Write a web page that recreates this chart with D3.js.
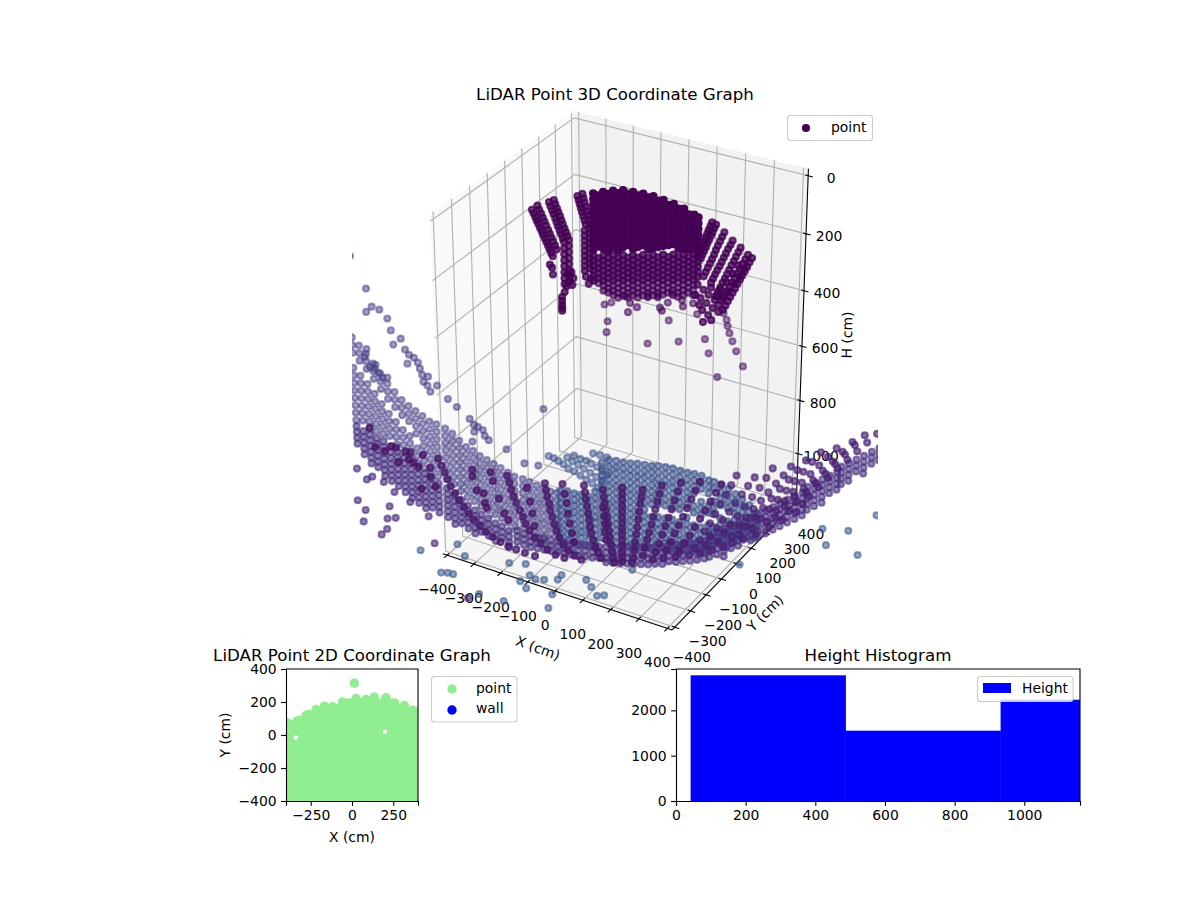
<!DOCTYPE html>
<html>
<head>
<meta charset="utf-8">
<script src="https://cdn.jsdelivr.net/npm/d3@7"></script>
<style>
  body { margin: 0; background: #fff; }
  svg { display: block; }
  text { font-family: "DejaVu Sans", sans-serif; fill: #000; }
</style>
</head>
<body>
<svg id="chart" width="1200" height="900"></svg>
<script>
// ---------- limits and ticks ----------
var xLim = [-400, 400];
var yLim = [-400, 400];
var hLim = [0, 1160];
var xTicks = [-400, -300, -200, -100, 0, 100, 200, 300, 400];
var yTicks = [-400, -300, -200, -100, 0, 100, 200, 300, 400];
var hTicks = [0, 200, 400, 600, 800, 1000];

// ---------- 3D cloud, far wall (all at y = 200) ----------
var wallY = 200;
var wallColX = [-220,-202,-184,-166,-148,-130,-112,-94,-76,-58,-40,-22,-4,14,32,50,68,86,104,122,140,155];
var wallUpperH = [
  [125,145,165,185,205,225,245,265,285,305,325],
  [128,148,168,188,208,228,248,268,288,308],
  [111,131,151,171,191,211,231,251,271,291,311],
  [114,134,154,174,194,214,234,254,274,294,314],
  [98,118,138,158,178,198,218,238,258,278,298],
  [102,122,142,162,182,202,222,242,262,282,302],
  [87,107,127,147,167,187,207,227,247,267,287],
  [95,115,135,155,175,195,215,235,255,275],
  [84,104,124,144,164,184,204,224,244,264,284],
  [92,112,132,152,172,192,212,232,252,272],
  [81,101,121,141,161,181,201,221,241,261],
  [90,110,130,150,170,190,210,230,250,270],
  [81,101,121,141,161,181,201,221,241,261],
  [93,113,133,153,173,193,213,233,253],
  [85,105,125,145,165,185,205,225,245],
  [97,117,137,157,177,197,217,237],
  [89,109,129,149,169,189,209,229],
  [101,121,141,161,181,201,221,241],
  [97,117,137,157,177,197,217,237],
  [112,132,152,172,192,212,232],
  [108,128,148,168,188,208,228],
  [114,134,154,174,194,214]
];
var wallMidH = [
  [345,363,381,399,417,435],
  [349,367,385,403,421],
  [335,353,371,389,407,425],
  [339,357,375,393,411],
  [325,343,361,379,397,415],
  [329,347,365,383,401],
  [315,333,351,369,387,405],
  [319,337,355,373,391],
  [305,323,341,359,377,395],
  [309,327,345,363,381],
  [295,313,331,349,367,385],
  [299,317,335,353,371],
  [285,303,321,339,357,375],
  [289,307,325,343,361],
  [275,293,311,329,347,365],
  [279,297,315,333,351],
  [265,283,301,319,337,355],
  [269,287,305,323,341],
  [255,273,291,309,327,345],
  [259,277,295,313,331],
  [245,263,281,299,317,335],
  [249,267,285,303,321]
];
var wallLowerH = [
  [],
  [439],
  [443,461],
  [429,447,463],
  [433,451,467],
  [419,437,455,472],
  [423,441,459],
  [409,427,445,461],
  [413,431,449],
  [399,417,435,451],
  [403,421,439],
  [389,407,425,441],
  [393,411,429],
  [379,397,415,431],
  [383,401,417],
  [369,387,405],
  [373,391,409],
  [359,377,395,410],
  [363,381,399],
  [349,367,385],
  [353,371,389],
  []
];
var wallDropX = [-104,-86,-94,-61,-22,14,22,29,50,65,101,104,140];
var wallDropH = [459,479,514,487,435,425,466,475,440,403,418,439,418];

var fingerX = [
  [-446,-440,-434,-429,-423,-417,-411,-406,-400,-394,-388,-383,-377,-371,-374,-371,-382],
  [-425,-419,-412,-406,-400,-394,-387,-381,-375,-369,-362,-356],
  [-382,-377,-371,-366,-360,-355,-350,-344,-339,-333,-328,-328,-328,-328,-328,-328,-328,-328],
  [-364,-359,-353,-348,-342,-337,-332,-326,-321,-315,-310,-310,-310,-310,-310,-310,-310,-310],
  [-338,-338,-338,-338,-338,-317,-302,-295,-310,-320,-299,-328],
  [-277,-273,-269,-265,-261,-256,-252,-248,-252,-252,-252,-252,-252,-252,-252,-252,-252,-248,-238,-230],
  [-259,-255,-251,-247,-243,-238,-234,-230,-234,-234,-234,-234,-234,-234,-234,-234,-234],
  [202,197,191,186,181,176,171,165,160,155],
  [216,210,204,199,193,187,182,176,170,165],
  [245,238,231,224,217,211,204,197,190,183,176],
  [274,267,259,252,245,238,231,223,216,209,202],
  [302,295,287,280,272,265,257,250,242,235,227,220],
  [342,334,326,318,310,302,294,286,278,270,262,254,245],
  [328,319,310,301,292,283,275,266,257,248,239,230],
  [155,176,194,216,166,187,209,230,173,194,176,205,162,148,223,245,263,284,302,317,202,234,256,277,295]
];
var fingerH = [
  [240,251,263,274,285,297,308,319,330,342,353,364,376,387,429,453,420],
  [220,233,245,258,270,283,296,308,321,333,346,359],
  [197,210,223,235,248,261,274,287,299,312,325,347,368,390,411,433,455,476],
  [185,198,211,223,236,249,262,275,287,300,313,334,356,378,399,421,442,464],
  [526,540,555,566,576,437,426,446,460,481,472,505],
  [149,162,175,188,201,214,228,241,264,282,300,318,336,354,372,390,408,428,451,430],
  [137,151,165,179,193,207,221,236,251,269,287,305,323,341,359,377,395],
  [119,133,147,162,176,190,204,219,233,247],
  [123,137,152,166,181,195,210,224,239,253],
  [142,159,176,193,210,228,245,262,279,296,313],
  [163,180,196,213,229,246,262,279,295,312,328],
  [180,197,215,232,249,266,284,301,318,336,353,370],
  [205,222,240,257,274,291,308,326,343,360,377,395,412],
  [198,216,234,253,271,289,308,326,344,362,381,399],
  [348,360,373,385,392,404,416,424,433,445,475,460,418,386,369,369,342,311,281,248,346,344,312,277,243]
];
var wallStrayX = [-180,-155,-169,-173,-22,54,90,184,198,230,248,259,263,270,281,295,320,155];
var wallStrayH = [510,496,568,609,608,503,569,534,581,658,423,444,465,488,514,546,593,452];

// ---------- 3D cloud, floor bowl (all at y = 0) ----------
var bowlY = 0;
var fanLeftX = [
  [-705,-693,-682,-670,-659,-643,-628,-609,-590,-571,-548,-525,-498,-467,-437,-406,-372,-333],
  [-435,-427,-420,-412,-401,-389,-378,-367,-352,-333,-310,-284,-253,-219],
  [-290,-286,-282,-274,-271,-263,-256,-248,-237,-222,-203,-180,-154],
  [-142,-138,-135,-131,-127,-123,-120,-116,-108,-101,-90,-79],
  [-71,-68,-64,-60,-56,-53,-49,-45,-41,-38,-34,-30],
  [0,0,0,0,0,0,0,0,0,0,0,0,0,0],
  [75,71,67,63,60,56,52,48,45,41,37],
  [145,137,130,122,115,108,100,93,85,78],
  [214,203,192,181,170,159,148,137,125,114],
  [281,266,252,237,223,208,193,179,164,153],
  [357,339,320,302,284,266,248,229,211,197]
];
var fanLeftH = [
  [1143,1167,1190,1213,1237,1259,1282,1303,1324,1341,1358,1374,1386,1396,1403,1405,1407,1407],
  [1125,1149,1174,1198,1220,1244,1267,1291,1312,1334,1349,1365,1375,1376],
  [1108,1132,1157,1182,1207,1231,1256,1279,1302,1325,1341,1354,1361],
  [1070,1095,1120,1145,1171,1195,1221,1245,1269,1293,1313,1329],
  [1064,1090,1114,1139,1164,1190,1215,1240,1265,1290,1312,1330],
  [1033,1055,1077,1100,1122,1145,1167,1190,1212,1234,1257,1279,1298,1317],
  [1017,1045,1072,1103,1134,1165,1195,1226,1257,1288,1308],
  [979,1012,1044,1076,1107,1139,1171,1202,1235,1267],
  [946,983,1019,1056,1092,1128,1164,1202,1238,1270],
  [922,959,996,1034,1071,1108,1144,1181,1219,1251],
  [907,944,983,1021,1059,1096,1135,1169,1203,1233]
];
var fanRightX = [
  [410,392,374,356,338,320,302,284,266,245],
  [473,451,430,408,387,365,344,322,304,286],
  [534,513,491,466,441,417,392,370,349,328],
  [596,572,547,522,497,472,447,422,398,369],
  [646,618,590,561,533,505,477,448,424,402],
  [695,667,639,611,583,555,527,498,470,439],
  [747,719,691,663,635,607,579,551,520,482],
  [798,767,736,704,673,642,611,579,548,527],
  [837,806,775,744,713,682,650,619,595,574],
  [877,846,815,784,753,722,691,660,640,619]
];
var fanRightH = [
  [858,899,940,981,1023,1064,1101,1139,1176,1211],
  [845,883,921,960,999,1037,1075,1114,1151,1189],
  [793,834,877,919,962,1005,1044,1082,1123,1162],
  [767,806,844,884,923,962,1001,1040,1086,1138],
  [729,773,816,859,903,947,990,1033,1072,1110],
  [685,728,772,815,858,901,944,988,1035,1086],
  [655,694,733,773,812,855,898,941,992,1052],
  [617,661,705,748,792,832,872,916,967,1011],
  [581,625,668,712,756,799,843,886,928,969],
  [564,604,644,684,724,768,811,854,888,925]
];
var dottedX = [-571,-571,-556,-529,-525,-518,-499,-491,-469,-450,-435,-359,-348,-340,-333,-223,-215,-208,-204,-197,-189,-181,
  -893,-874,-835,-816,-766,-824,-805,-785,-739,-920,-866,-959,-978,-720,-778,-739,-71,-67,-64,-64,-60];
var dottedH = [1145,1171,1220,1223,1260,1277,1132,1163,1225,1277,1298,1148,1198,1241,1288,1090,1126,1158,1198,1234,1269,1301,
  1153,1152,1155,1154,1148,1183,1189,1199,1224,1180,1206,1176,1105,1257,1285,1190,1131,1164,1193,1223,1252];

var wingColX = [-1032,-1005,-978,-951,-924,-897,-870,-843,-816,-789,-762,-735,-708,-673,-646,-619,-593,-566,-540,-513,-486,-460,-433,-407,-375,-349,-322,-296,-270,-244];
var wingH = [
  [773,802,831,889,918,947,976,1005,1034,1063,1092],
  [796,825,854,912,941,970,999,1028,1057,1086],
  [820,849,878,936,965,994,1023,1052,1081,1110],
  [850,879,908,966,995,1024,1053,1082,1111],
  [881,910,939,997,1026,1055,1084,1113],
  [911,940,969,1027,1056,1085,1114],
  [935,964,993,1051,1080,1109,1138],
  [958,987,1016,1074,1103,1132,1161],
  [973,1002,1031,1089,1118,1147,1176],
  [984,1013,1042,1071,1129,1158,1187],
  [995,1024,1053,1082,1111,1140,1169,1198],
  [1008,1037,1066,1095,1124,1153,1182,1211],
  [1011,1040,1069,1098,1127,1156,1185,1214],
  [1017,1045,1073,1101,1129,1157,1185,1213],
  [1028,1056,1084,1112,1140,1168,1196,1224],
  [1047,1075,1103,1131,1159,1187,1215,1243],
  [1063,1091,1119,1147,1175,1203,1231,1259],
  [1070,1098,1126,1154,1182,1210,1238,1266],
  [1082,1110,1138,1166,1194,1222,1250,1278],
  [1089,1117,1145,1173,1201,1229,1257,1285],
  [1096,1124,1152,1180,1208,1236,1264,1292],
  [1103,1131,1159,1187,1215,1243,1271,1299],
  [1112,1140,1168,1196,1224,1252,1280,1308],
  [1119,1147,1175,1203,1231,1259,1287,1315],
  [1119,1146,1173,1200,1227,1254,1281,1308],
  [1122,1149,1176,1203,1230,1257,1284,1311],
  [1127,1154,1181,1208,1235,1262,1289,1316],
  [1130,1157,1184,1211,1238,1265,1292,1319],
  [1134,1161,1188,1215,1242,1269,1296],
  [1130,1157,1184,1211,1238,1265,1292]
];

var bandColX = [-1032,-1005,-978,-951,-924,-897,-870,-843,-816,-789,-762,-735,-708,-673,-646,-619,-593,-566,-540,-513,-486,-460,-433,
  -401,-375,-349,-322,-296,-270,-244,-218,-191,-165,-139,-112,-86,-60,-34,-8,19,45,71,97,123,149,173,199,224,250,276,302,
  320,346,371,396,421,440,465,490,515,540,564,589,614,639,655,679,704,728,752,766,790,814,838,863,887];
var bandH = [
  [1116,1139,1162,1185],
  [1127,1150,1173,1196,1219],
  [1132,1155,1178,1201,1224,1247],
  [1139,1162,1185,1208,1231,1254],
  [1142,1165,1188,1211,1234,1257,1280],
  [1154,1177,1200,1223,1246,1269,1292],
  [1166,1189,1212,1235,1258,1281,1304],
  [1181,1204,1227,1250,1273,1296,1319],
  [1196,1219,1242,1265,1288,1311,1334],
  [1207,1230,1253,1276,1299,1322,1345],
  [1219,1242,1265,1288,1311,1334,1357],
  [1231,1254,1277,1300,1323,1346],
  [1242,1265,1288,1311,1334,1357],
  [1249,1272,1295,1318,1341,1364],
  [1268,1291,1314,1337,1360,1383],
  [1279,1302,1325,1348,1371],
  [1291,1314,1337,1360,1383],
  [1302,1325,1348,1371,1394],
  [1310,1333,1356,1379],
  [1317,1340,1363,1386],
  [1328,1351,1374,1397],
  [1331,1354,1377],
  [1340,1363,1386,1405],
  [1329,1351,1373],
  [1333,1355,1377],
  [1333,1355,1377],
  [1329,1351,1373],
  [1325,1347,1369],
  [1322,1344,1366],
  [1318,1340,1362],
  [1314,1336,1358],
  [1310,1332,1354],
  [1307,1329,1351],
  [1299,1321,1343],
  [1295,1317,1339],
  [1288,1310,1332],
  [1280,1302,1324,1340],
  [1273,1295,1317,1333],
  [1265,1287,1309,1327],
  [1252,1274,1296,1318],
  [1244,1266,1288,1310],
  [1237,1259,1281,1303],
  [1229,1251,1273,1295],
  [1218,1240,1262,1284],
  [1210,1232,1254,1276],
  [1192,1214,1236,1258],
  [1185,1207,1229,1251],
  [1174,1196,1218,1240],
  [1163,1185,1207,1229],
  [1151,1173,1195,1217],
  [1137,1159,1181,1203],
  [1107,1128,1149,1170,1191],
  [1088,1109,1130,1151,1172],
  [1067,1088,1109,1130,1151,1172],
  [1049,1070,1091,1112,1133],
  [1031,1052,1073,1094,1115],
  [1017,1038,1059,1080],
  [996,1017,1038,1059,1080],
  [975,996,1017,1038,1059],
  [954,975,996,1017,1038],
  [932,953,974,995,1016],
  [911,932,953,974,995],
  [889,910,931,952,973],
  [868,889,910,931,952],
  [847,868,889,910,931],
  [821,842,863,884,905],
  [800,821,842,863,884],
  [779,800,821,842,863],
  [758,779,800,821],
  [738,759,780,801],
  [714,735,756,777],
  [694,715,736,757],
  [674,695,716],
  [653,674,695,716],
  [631,652,673],
  [611,632,653]
];

var blueColX = [-231,-205,-179,-153,-126,-100,-74,-48,-22,4,30,56,82,108,132,158,184,210,236,261,287,313,331,356,382,407,432,457,482];
var blueH = [
  [1119,1143,1167,1191,1215,1239,1263,1287,1311],
  [1111,1135,1159,1183,1207,1231,1255,1279,1303],
  [1112,1136,1160,1184,1208,1232,1256,1280,1304],
  [1108,1132,1156,1180,1204,1228,1252,1276,1300],
  [1107,1131,1155,1179,1203,1227,1251,1275,1299],
  [1081,1105,1129,1153,1177,1201,1225,1249,1273,1297],
  [962,986,1010,1034,1058,1082,1106,1130,1154,1178,1202,1226,1250],
  [944,968,992,1016,1040,1064,1088,1112,1136,1160,1184,1208,1232,1256],
  [939,963,987,1011,1035,1059,1083,1107,1131,1155,1179,1203,1227,1251],
  [936,960,984,1008,1032,1056,1080,1104,1128,1152,1176,1200,1224,1248],
  [932,956,980,1004,1028,1052,1076,1100,1124,1148,1172,1196,1220,1244],
  [925,949,973,997,1021,1045,1069,1093,1117,1141,1165,1189,1213,1237],
  [921,945,969,993,1017,1041,1065,1089,1113,1137,1161,1185,1209,1233],
  [917,941,965,989,1013,1037,1061,1109,1133,1157,1181,1205,1229],
  [910,934,958,982,1006,1030,1054,1102,1126,1150,1174,1198,1222],
  [906,930,954,978,1002,1026,1050,1098,1122,1146,1170,1194,1218],
  [902,926,950,974,998,1022,1046,1094,1118,1142,1166,1190,1214],
  [903,927,951,975,999,1023,1047,1095,1119,1143,1167,1191,1215],
  [902,926,950,974,998,1022,1070,1094,1118,1142,1166,1190],
  [899,923,947,971,1019,1043,1091,1115,1139,1163,1187],
  [898,922,946,994,1018,1042,1090,1114,1138,1162,1186],
  [906,930,954,1002,1026,1074,1098,1122,1146,1170],
  [906,930,978,1002,1026,1074,1098,1122,1146],
  [913,937,961,985,1033,1057,1081,1105,1129],
  [916,940,964,988,1036,1060,1084,1108,1132],
  [927,951,975,999,1023,1047,1071,1095],
  [938,962,986,1010,1034,1058,1082],
  [952,976,1000,1024,1048,1072],
  [970,994,1018,1042,1066]
];
var armX = [-274,-255,-237,-218,-200,-178,-155,-133,-111,-89,-204,-185,-163,-141,-118,-96,-74,-178,-155,-133,-115,-93,-74,-56,-107,-56,-81];
var armH = [999,1001,1007,1013,1023,1027,1036,1044,1052,1061,983,992,997,1006,1014,1022,1030,968,973,973,979,984,993,1003,937,936,936];

var strayX = [-1021,-964,-968,-945,-915,-885,-873,-866,-835,-820,-805,-786,-813,-771,-764,-756,-752,-733,-737,-726,-699,-658,-624,
  -975,-983,-941,-964,-945,-930,-915,-896,-575,-559,-544,-525,-559,-518,-503,-567,-435,-367,-314,-291];
var strayH = [466,571,659,633,636,661,702,753,722,759,774,780,810,794,815,836,861,836,871,891,860,899,919,
  801,833,851,866,867,878,893,887,950,968,971,977,994,997,1009,1034,1023,1056,1048,827];
var lowStrayX = [-1040,-1001,-978,-931,-889,-1044,-1013,-1024,-912,-923,-889,-927,-951,-826,-753,-733,-605];
var lowStrayH = [1287,1318,1300,1306,1333,1416,1446,1496,1398,1451,1437,1495,1525,1353,1387,1489,1669];
var floorStrayX = [-640,-792,-711,-684,-662,-435,-612,-559,-370,-355,-393,-370,-333,-299,-246,-231,-136,-117,-268,-95,-68,-284,-461,38,889,711,798,725,833,428];
var floorStrayH = [1462,1537,1601,1593,1591,1469,1501,1637,1451,1491,1528,1549,1500,1490,1471,1448,1435,1457,1538,1484,1473,1599,1632,1336,849,956,935,1012,1012,1184];

// ---------- 2D panel ----------
var evenX = [-400,-360,-320,-280,-240,-200,-160,-120,-80,-40,0,40,80,120,160,200,240,280,320,360,400];
var oddX = [-380,-340,-300,-260,-220,-180,-140,-100,-60,-20,20,60,100,140,180,220,260,300,340,380];
var planRowY = [-400,-365,-330,-295,-260,-225,-190,-155,-120,-85,-50,-15,20,55,90,125,160,195];
var planRowX = [
  evenX, oddX, evenX, oddX, evenX, oddX, evenX, oddX, evenX, oddX, evenX,
  [-380,-300,-260,-220,-180,-140,-100,-60,-20,20,60,100,140,180,220,260,300,340,380],
  [-400,-360,-320,-280,-240,-200,-160,-120,-80,-40,0,40,80,120,160,240,280,320,360,400],
  oddX,
  [-320,-280,-240,-200,-160,-120,-80,-40,0,40,80,120,160,200,240,280,320,360,400],
  [-260,-220,-180,-140,-100,-60,-20,20,60,100,140,180,220,260,300,340,380],
  [-160,-120,-80,-40,0,40,80,120,160,200,240,280,320],
  [-20,20,60,100,140,180,220]
];
var planEdgeX = [-390,-335,-279,-218,-168,-117,-57,24,85,135,206,257,317,368,400,14];
var planEdgeY = [74,84,120,155,175,171,201,222,215,230,226,195,179,151,139,314];

// ---------- histogram ----------
var histEdges = [42, 487, 932, 1377];
var histCounts = [2773, 1551, 2235];
var histXTicks = [0, 200, 400, 600, 800, 1000];
var histYTicks = [0, 1000, 2000];

// ---------- projection ----------
var svg = d3.select("#chart");
var elev = 30 * Math.PI / 180, azim = -60 * Math.PI / 180, dist = 10;

var boxX = d3.scaleLinear().domain(xLim).range([-0.4517, 0.4517]);
var boxY = d3.scaleLinear().domain(yLim).range([-0.4517, 0.4517]);
var boxH = d3.scaleLinear().domain(hLim).range([0.655, -0.655]);
var screenX = d3.scaleLinear().domain([-0.095, 0.09]).range([352, 878]);
var screenY = d3.scaleLinear().domain([-0.095, 0.09]).range([635, 109]);

var w = [Math.cos(elev) * Math.cos(azim), Math.cos(elev) * Math.sin(azim), Math.sin(elev)];
var u = [-Math.sin(azim), Math.cos(azim), 0];
var v = [w[1] * u[2] - w[2] * u[1], w[2] * u[0] - w[0] * u[2], w[0] * u[1] - w[1] * u[0]];

function project(x, y, h) {
    var p = [boxX(x), boxY(y), boxH(h)];
    var depth = dist - d3.sum(p, function (c, i) { return c * w[i]; });
    return [
        screenX(d3.sum(p, function (c, i) { return c * u[i]; }) / depth),
        screenY(d3.sum(p, function (c, i) { return c * v[i]; }) / depth)
    ];
}

// the panes sit a little outside the limits
var xPad = (xLim[1] - xLim[0]) / 48, hPad = (hLim[1] - hLim[0]) / 48;
var xMin = xLim[0] - xPad, xMax = xLim[1] + xPad;
var yMin = yLim[0] - xPad, yMax = yLim[1] + xPad;
var hTop = hLim[0] - hPad, hBot = hLim[1] + hPad;

var poly = d3.line();
var axes3d = svg.append("g");

function pane(corners, fill) {
    axes3d.append("path")
        .attr("d", poly(corners.map(function (c) { return project(c[0], c[1], c[2]); })) + "Z")
        .attr("fill", fill);
}
pane([[xMin, yMin, hTop], [xMin, yMax, hTop], [xMin, yMax, hBot], [xMin, yMin, hBot]], "#f9f9f9");
pane([[xMin, yMax, hTop], [xMax, yMax, hTop], [xMax, yMax, hBot], [xMin, yMax, hBot]], "#f2f2f2");
pane([[xMin, yMin, hBot], [xMax, yMin, hBot], [xMax, yMax, hBot], [xMin, yMax, hBot]], "#f5f5f5");

function line3d(points, colour, width) {
    axes3d.append("path")
        .attr("d", poly(points.map(function (c) { return project(c[0], c[1], c[2]); })))
        .attr("fill", "none")
        .attr("stroke", colour)
        .attr("stroke-width", width);
}
xTicks.forEach(function (t) {
    line3d([[t, yMin, hBot], [t, yMax, hBot], [t, yMax, hTop]], "#b0b0b0", 1.1);
});
yTicks.forEach(function (t) {
    line3d([[xMax, t, hBot], [xMin, t, hBot], [xMin, t, hTop]], "#b0b0b0", 1.1);
});
hTicks.forEach(function (t) {
    line3d([[xMin, yMin, t], [xMin, yMax, t], [xMax, yMax, t]], "#b0b0b0", 1.1);
});

line3d([[xMin, yMin, hBot], [xMax, yMin, hBot]], "#000", 1.1);
line3d([[xMax, yMin, hBot], [xMax, yMax, hBot]], "#000", 1.1);
line3d([[xMax, yMax, hTop], [xMax, yMax, hBot]], "#000", 1.1);

function fmt(t) { return d3.format("d")(t); }

function tickLabel(pos, label, dx, dy) {
    axes3d.append("text")
        .attr("x", pos[0] + dx)
        .attr("y", pos[1] + dy)
        .attr("text-anchor", "middle")
        .attr("dominant-baseline", "central")
        .style("font-size", "13.9px")
        .text(label);
}
xTicks.forEach(function (t) {
    line3d([[t, yMin + 12, hBot], [t, yMin - 18, hBot]], "#000", 1.1);
    tickLabel(project(t, yMin, hBot), fmt(t), -10, 34);
});
yTicks.forEach(function (t) {
    line3d([[xMax - 10, t, hBot], [xMax + 16, t, hBot]], "#000", 1.1);
    tickLabel(project(xMax, t, hBot), fmt(t), 17, 30);
});
hTicks.forEach(function (t) {
    line3d([[xMax - 10, yMax, t], [xMax + 16, yMax, t]], "#000", 1.1);
    tickLabel(project(xMax, yMax, t), fmt(t), 23, 2);
});

function axisName(x, y, angle, label) {
    axes3d.append("text")
        .attr("transform", "translate(" + x + "," + y + ") rotate(" + angle + ")")
        .attr("text-anchor", "middle")
        .attr("dominant-baseline", "central")
        .style("font-size", "13.9px")
        .text(label);
}
axisName(538, 648, 20, "X (cm)");
axisName(765, 613, -45, "Y (cm)");
axisName(847, 335, -89, "H (cm)");

svg.append("text")
    .attr("x", 615).attr("y", 100)
    .attr("text-anchor", "middle")
    .style("font-size", "16.67px")
    .text("LiDAR Point 3D Coordinate Graph");

// ---------- point cloud ----------
svg.append("clipPath").attr("id", "clip3d").append("rect")
    .attr("x", 352).attr("y", 109).attr("width", 526).attr("height", 526);
var cloud = svg.append("g").attr("clip-path", "url(#clip3d)");
var viridis = d3.scaleSequential(d3.interpolateViridis).domain([0, 1]);

function drawCloud(points, y, tone, alpha) {
    cloud.append("g").selectAll("circle").data(points).enter().append("circle")
        .attr("cx", function (d) { return project(d[0], y, d[1])[0]; })
        .attr("cy", function (d) { return project(d[0], y, d[1])[1]; })
        .attr("r", 3.1)
        .attr("fill", viridis(tone))
        .attr("stroke", viridis(tone))
        .attr("stroke-width", 2)
        .attr("fill-opacity", alpha)
        .attr("stroke-opacity", alpha);
}
function fromTracks(xs, hs) {
    return d3.merge(xs.map(function (track, i) {
        return track.map(function (x, j) { return [x, hs[i][j]]; });
    }));
}
function fromColumns(xs, hs) {
    return d3.merge(xs.map(function (x, i) {
        return hs[i].map(function (h) { return [x, h]; });
    }));
}
function fromList(xs, hs) {
    return xs.map(function (x, i) { return [x, hs[i]]; });
}

drawCloud(fromList(floorStrayX, floorStrayH), bowlY, 0.27, 0.55);
drawCloud(fromList(strayX, strayH), bowlY, 0.18, 0.5);
drawCloud(fromList(lowStrayX, lowStrayH), bowlY, 0.12, 0.6);
drawCloud(fromList(armX, armH), bowlY, 0.25, 0.5);
drawCloud(fromColumns(wingColX, wingH), bowlY, 0.18, 0.5);
drawCloud(fromColumns(blueColX, blueH), bowlY, 0.25, 0.6);
drawCloud(fromColumns(bandColX, bandH), bowlY, 0.14, 0.6);
drawCloud(fromList(dottedX, dottedH), bowlY, 0.05, 0.7);
drawCloud(fromTracks(fanRightX, fanRightH), bowlY, 0.09, 0.65);
drawCloud(fromTracks(fanLeftX, fanLeftH), bowlY, 0.07, 0.75);

drawCloud(fromList(wallStrayX, wallStrayH), wallY, 0.03, 0.5);
drawCloud(fromList(wallDropX, wallDropH), wallY, 0.02, 0.55);
drawCloud(fromColumns(wallColX, wallLowerH), wallY, 0.01, 0.6);
drawCloud(fromColumns(wallColX, wallMidH), wallY, 0.01, 0.8);
drawCloud(fromColumns(wallColX, wallUpperH), wallY, 0, 0.98);
drawCloud(fromTracks(fingerX, fingerH), wallY, 0, 0.75);

// ---------- legends ----------
function legendBox(x, y, width, height) {
    svg.append("rect")
        .attr("x", x).attr("y", y).attr("width", width).attr("height", height)
        .attr("rx", 3).attr("ry", 3)
        .attr("fill", "#fff").attr("fill-opacity", 0.8)
        .attr("stroke", "#ccc").attr("stroke-width", 1.1);
}
function legendText(x, y, label) {
    svg.append("text")
        .attr("x", x).attr("y", y)
        .attr("dominant-baseline", "central")
        .style("font-size", "13.9px")
        .text(label);
}
legendBox(787.5, 115.5, 85, 25);
svg.append("circle").attr("cx", 806).attr("cy", 128).attr("r", 3.4)
    .attr("fill", "#440154").attr("stroke", "#440154").attr("stroke-width", 1.4);
legendText(831, 127, "point");

// ---------- 2D panel ----------
var plan = svg.append("g");
var planX = d3.scaleLinear().domain([-400, 400]).range([286, 418]);
var planY = d3.scaleLinear().domain([-400, 400]).range([801, 669]);
svg.append("clipPath").attr("id", "clipPlan").append("rect")
    .attr("x", 286).attr("y", 669).attr("width", 132).attr("height", 132);

var planPoints = d3.merge(planRowY.map(function (y, i) {
    return planRowX[i].map(function (x) { return [x, y]; });
})).concat(planEdgeX.map(function (x, i) { return [x, planEdgeY[i]]; }));

plan.append("g").attr("clip-path", "url(#clipPlan)")
    .selectAll("circle").data(planPoints).enter().append("circle")
    .attr("cx", function (d) { return planX(d[0]); })
    .attr("cy", function (d) { return planY(d[1]); })
    .attr("r", 4.7)
    .attr("fill", "#90ee90");

function styleAxis(g) {
    g.selectAll("text").style("font-size", "13.9px").style("font-family", '"DejaVu Sans", sans-serif').attr("fill", "#000");
    g.selectAll("line").attr("stroke-width", 1.1);
    g.selectAll("path").attr("stroke-width", 1.1);
}
plan.append("g").attr("transform", "translate(0,801)")
    .call(d3.axisBottom(planX).tickValues([-250, 0, 250]).tickSize(4.86).tickPadding(4.5))
    .call(styleAxis);
plan.append("g").attr("transform", "translate(286,0)")
    .call(d3.axisLeft(planY).tickValues([-400, -200, 0, 200, 400]).tickSize(4.86).tickPadding(4.5))
    .call(styleAxis);
plan.append("path").attr("d", "M286,669H418V801").attr("fill", "none").attr("stroke", "#000").attr("stroke-width", 1.1);

svg.append("text").attr("x", 352).attr("y", 661).attr("text-anchor", "middle")
    .style("font-size", "16.67px").text("LiDAR Point 2D Coordinate Graph");
svg.append("text").attr("x", 352).attr("y", 842).attr("text-anchor", "middle")
    .style("font-size", "13.9px").text("X (cm)");
svg.append("text").attr("transform", "translate(230,735) rotate(-90)").attr("text-anchor", "middle")
    .style("font-size", "13.9px").text("Y (cm)");

legendBox(431.5, 676.5, 85.5, 45.5);
svg.append("circle").attr("cx", 452).attr("cy", 689).attr("r", 4.7).attr("fill", "#90ee90");
svg.append("circle").attr("cx", 452).attr("cy", 710).attr("r", 4.7).attr("fill", "#0000ff");
legendText(476, 688, "point");
legendText(476, 708, "wall");

// ---------- histogram ----------
var hist = svg.append("g");
var histX = d3.scaleLinear().domain([0, 1160]).range([676, 1080]);
var histY = d3.scaleLinear().domain([0, 2912]).range([801, 669]);
svg.append("clipPath").attr("id", "clipHist").append("rect")
    .attr("x", 676).attr("y", 669).attr("width", 404).attr("height", 132);

hist.append("g").attr("clip-path", "url(#clipHist)")
    .selectAll("rect").data(histCounts).enter().append("rect")
    .attr("x", function (d, i) { return histX(histEdges[i]); })
    .attr("y", function (d) { return histY(d); })
    .attr("width", function (d, i) { return histX(histEdges[i + 1]) - histX(histEdges[i]) + 0.3; })
    .attr("height", function (d) { return 801 - histY(d); })
    .attr("fill", "#0000ff");

hist.append("g").attr("transform", "translate(0,801)")
    .call(d3.axisBottom(histX).tickValues(histXTicks).tickSize(4.86).tickPadding(4.5).tickFormat(d3.format("d")))
    .call(styleAxis);
hist.append("g").attr("transform", "translate(676,0)")
    .call(d3.axisLeft(histY).tickValues(histYTicks).tickSize(4.86).tickPadding(4.5).tickFormat(d3.format("d")))
    .call(styleAxis);
hist.append("path").attr("d", "M676,669H1080V801").attr("fill", "none").attr("stroke", "#000").attr("stroke-width", 1.1);

svg.append("text").attr("x", 878).attr("y", 661).attr("text-anchor", "middle")
    .style("font-size", "16.67px").text("Height Histogram");

legendBox(977.5, 676.5, 95.5, 25);
svg.append("rect").attr("x", 983).attr("y", 683).attr("width", 28).attr("height", 10).attr("fill", "#0000ff");
legendText(1022, 688, "Height");
</script>
</body>
</html>
